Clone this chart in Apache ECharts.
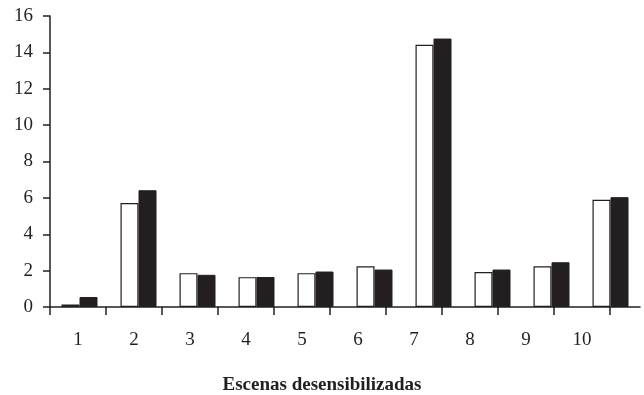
<!DOCTYPE html>
<html>
<head>
<meta charset="utf-8">
<script src="https://cdn.jsdelivr.net/npm/echarts@6/dist/echarts.min.js"></script>
<style>html,body{margin:0;padding:0;background:#fff;}#c{width:644px;height:395px;}</style>
</head>
<body>
<div id="c"></div>
<script>
const categories = ['1','2','3','4','5','6','7','8','9','10'];
const tickLabels = ['1','2','3','4','5','6','7','8','9','10'];
const seriesWhite = [0.14, 5.72, 1.86, 1.64, 1.86, 2.24, 14.42, 1.92, 2.24, 5.9];
const seriesBlack = [0.55, 6.42, 1.77, 1.65, 1.95, 2.06, 14.76, 2.06, 2.46, 6.04];
const yTicks = [0, 2, 4, 6, 8, 10, 12, 14, 16];
const xTitle = 'Escenas desensibilizadas';

const ink = '#231f20';
const font = '"Liberation Serif", "Times New Roman", serif';
const chart = echarts.init(document.getElementById('c'));
chart.setOption({
  animation: false,
  backgroundColor: '#fff',
  title: {
    text: xTitle, left: 'center', top: 371,
    textStyle: { fontFamily: font, fontWeight: 'bold', fontSize: 19, color: ink }
  },
  grid: [
    { left: 50, right: 4, top: 16, bottom: 88 },
    { left: 50, width: 560, top: 16, bottom: 88 }
  ],
  xAxis: [
    {
      gridIndex: 0, type: 'category', data: categories,
      axisLine: { show: true, lineStyle: { color: ink, width: 1.5 } },
      axisTick: { show: false }, axisLabel: { show: false }, splitLine: { show: false }
    },
    {
      gridIndex: 1, type: 'category', data: tickLabels,
      axisLine: { show: false },
      axisTick: { show: true, length: 8, lineStyle: { color: ink, width: 1.5 } },
      axisLabel: { margin: 24, fontFamily: font, fontSize: 19, color: ink },
      splitLine: { show: false }
    }
  ],
  yAxis: [
    {
      gridIndex: 0, type: 'value', min: yTicks[0], max: yTicks[yTicks.length - 1], interval: yTicks[1] - yTicks[0],
      axisLine: { show: true, lineStyle: { color: ink, width: 1.5 } },
      axisTick: { show: true, length: 7, lineStyle: { color: ink, width: 1.5 } },
      axisLabel: { margin: 17, fontFamily: font, fontSize: 19, color: ink },
      splitLine: { show: false }
    },
    {
      gridIndex: 1, type: 'value', min: yTicks[0], max: yTicks[yTicks.length - 1], show: false,
      splitLine: { show: false }
    }
  ],
  series: [
    {
      type: 'bar', xAxisIndex: 0, yAxisIndex: 0, data: seriesWhite,
      barWidth: 18, barGap: '0%',
      itemStyle: { color: '#fff', borderColor: ink, borderWidth: 1.2 }
    },
    {
      type: 'bar', xAxisIndex: 0, yAxisIndex: 0, data: seriesBlack,
      barWidth: 18, barGap: '0%',
      itemStyle: { color: ink, borderColor: ink, borderWidth: 1 }
    }
  ]
});
</script>
</body>
</html>
